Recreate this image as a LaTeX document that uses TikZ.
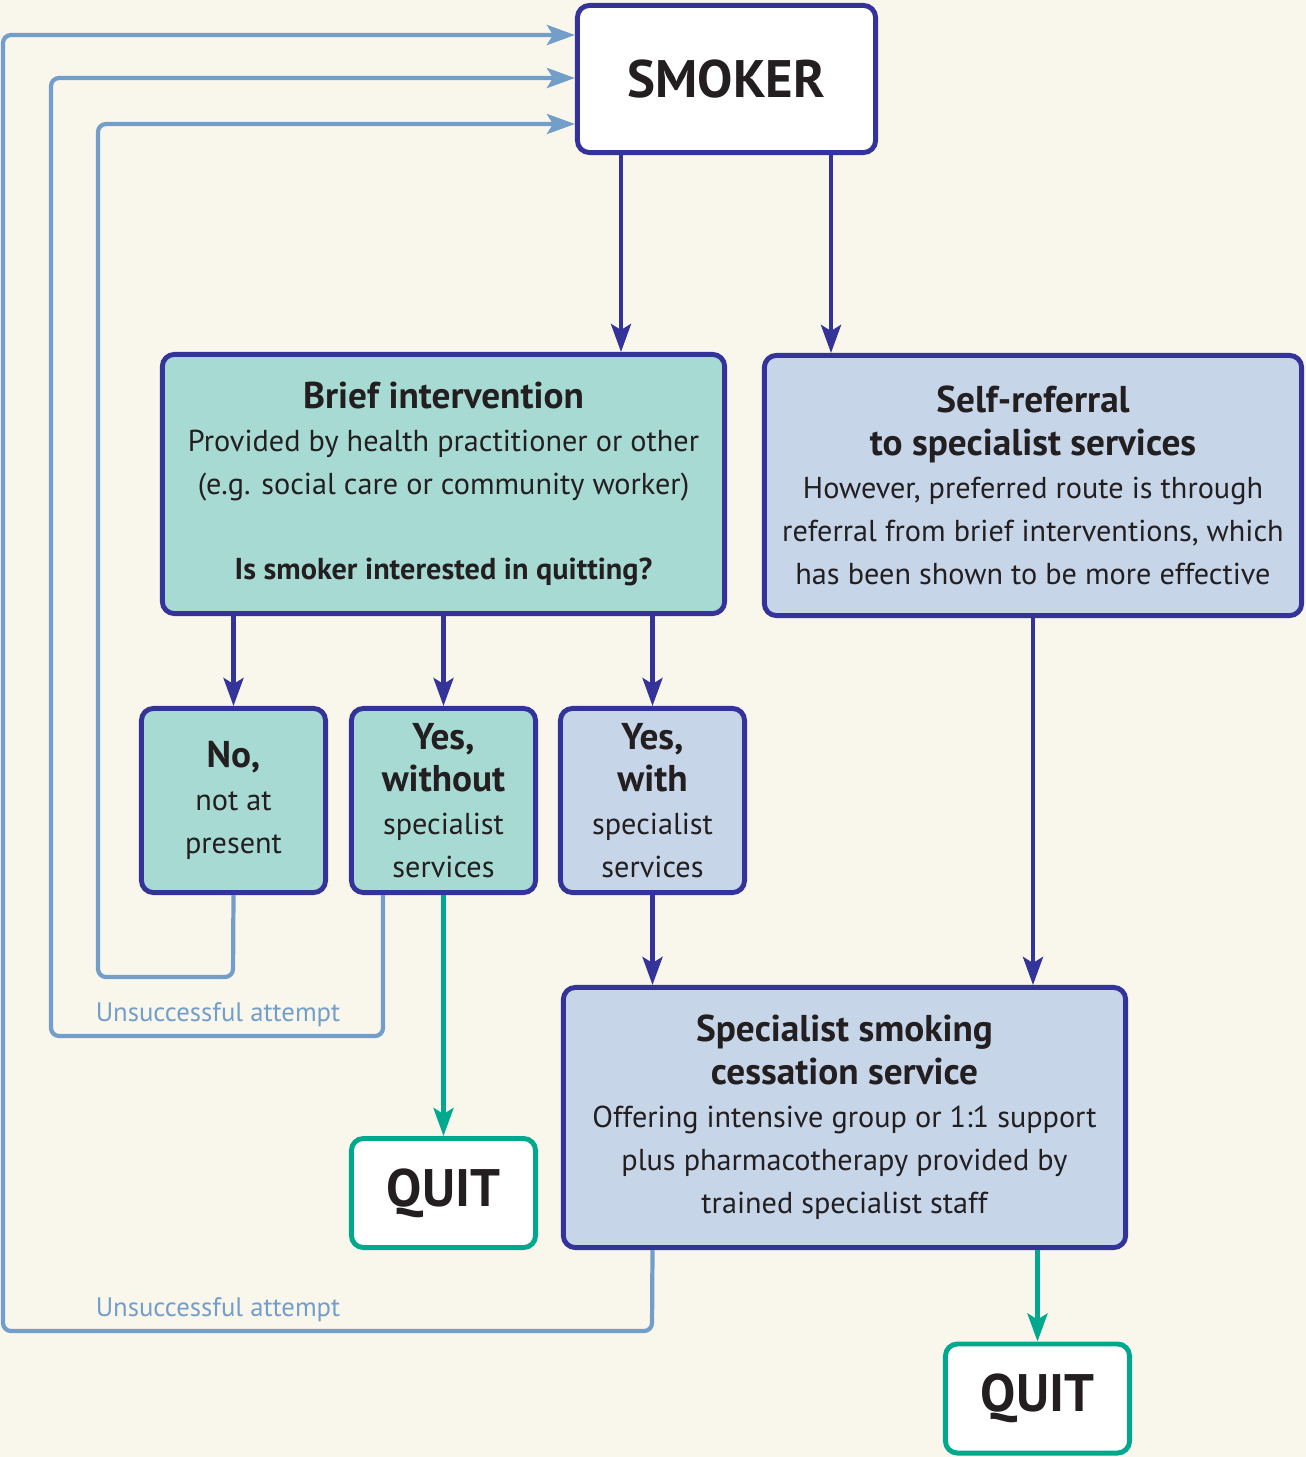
\documentclass[tikz,border=0pt]{standalone}
\usepackage{fontspec}
\setmainfont{PT Sans}
\usetikzlibrary{arrows.meta}
\definecolor{smokeblue}{RGB}{51,51,153}
\definecolor{backblue}{RGB}{116,158,202}
\definecolor{quitgreen}{RGB}{0,168,142}
\definecolor{tealfill}{RGB}{168,218,212}
\definecolor{bluefill}{RGB}{198,213,232}
\definecolor{paper}{RGB}{249,247,236}
\definecolor{ink}{RGB}{35,31,32}

\newcommand{\bodyfont}{\fontsize{8.6}{12.2}\selectfont}
\newcommand{\headfont}{\fontsize{10.6}{12.2}\selectfont\bfseries}
\newcommand{\bigfont}{\fontsize{15}{16}\selectfont\bfseries}

\begin{document}
\begin{tikzpicture}[x=0.01cm, y=-0.01cm,
    box/.style={rectangle, draw=smokeblue, line width=1.4pt, rounded corners=0.12cm, align=center, inner sep=0pt, text=ink, font=\bodyfont},
    quitbox/.style={box, draw=quitgreen, fill=white, minimum width=1.84cm, minimum height=1.09cm, font=\bigfont},
    answer/.style={box, minimum width=1.84cm, minimum height=1.84cm},
    arrow/.style={-{Stealth[length=0.28cm, width=0.2cm, inset=0.06cm]}, line width=1.2pt, smokeblue},
    back/.style={arrow, backblue, rounded corners=0.08cm},
    good/.style={arrow, quitgreen},
    note/.style={text=backblue, font=\fontsize{7.6}{9}\selectfont, inner sep=0pt}
]
    \fill[paper] (0,0) rectangle (1306,1457);

    % Top
    \node[box, fill=white, minimum width=2.98cm, minimum height=1.47cm, font=\bigfont] (smoker) at (726.5,79) {SMOKER};

    % Second row
    \node[box, fill=tealfill, minimum width=5.62cm, minimum height=2.59cm] (brief) at (443.5,484)
        {{\headfont Brief intervention}\\Provided by health practitioner or other\\(e.g. social care or community worker)\\[12.2pt]\textbf{Is smoker interested in quitting?}};
    \node[box, fill=bluefill, minimum width=5.37cm, minimum height=2.60cm] (selfref) at (1033,485.5)
        {{\headfont Self-referral}\\{\headfont to specialist services}\\However, preferred route is through\\referral from brief interventions, which\\has been shown to be more effective};

    % Answers
    \node[answer, fill=tealfill] (no) at (233.5,800.5) {{\headfont No,}\\not at\\present};
    \node[answer, fill=tealfill] (without) at (443.5,800.5) {{\headfont Yes,}\\{\headfont without}\\specialist\\services};
    \node[answer, fill=bluefill] (with) at (652.5,800.5) {{\headfont Yes,}\\{\headfont with}\\specialist\\services};

    % Specialist service
    \node[box, fill=bluefill, minimum width=5.62cm, minimum height=2.60cm] (special) at (844.5,1117.5)
        {{\headfont Specialist smoking}\\{\headfont cessation service}\\Offering intensive group or 1:1 support\\plus pharmacotherapy provided by\\trained specialist staff};

    % Outcomes
    \node[quitbox] (quitA) at (443.5,1193) {QUIT};
    \node[quitbox] (quitB) at (1037.5,1398.5) {QUIT};

    % Labels
    \node[note] (lblA) at (218,1015) {Unsuccessful attempt};
    \node[note] (lblB) at (218,1310) {Unsuccessful attempt};

    % Arrows down
    \draw[arrow] (smoker.south -| 621,0) -- (brief.north -| 621,0);
    \draw[arrow] (smoker.south -| 831,0) -- (selfref.north -| 831,0);
    \draw[arrow] (brief.south -| no.north) -- (no.north);
    \draw[arrow] (brief.south -| without.north) -- (without.north);
    \draw[arrow] (brief.south -| with.north) -- (with.north);
    \draw[arrow] (with.south) -- (special.north -| with.south);
    \draw[arrow] (selfref.south) -- (special.north -| selfref.south);

    % Quitting
    \draw[good] (without.south) -- (quitA.north);
    \draw[good] (quitB.north |- special.south) -- (quitB.north);

    % Back to smoker
    \draw[back] (no.south) -- (233,977) -- (98,977) -- (98,124) -- (smoker.west |- 0,124);
    \draw[back] (without.south -| 383,0) -- (383,1036) -- (51,1036) -- (51,78) -- (smoker.west |- 0,78);
    \draw[back] (special.south -| with.south) -- (652,1331) -- (3,1331) -- (3,35) -- (smoker.west |- 0,35);
\end{tikzpicture}
\end{document}
